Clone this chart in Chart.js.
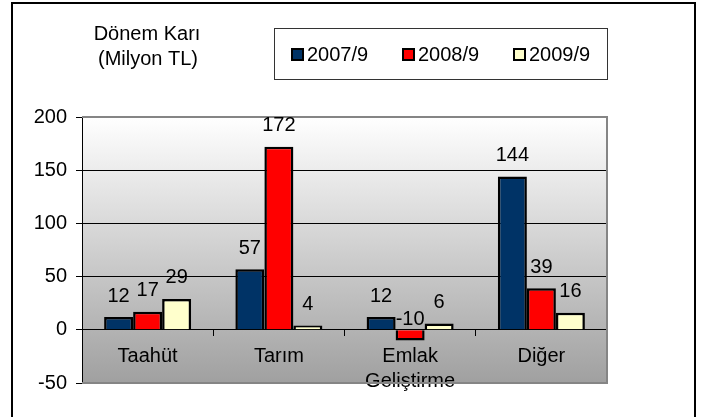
<!DOCTYPE html>
<html>
<head>
<meta charset="utf-8">
<script src="https://cdn.jsdelivr.net/npm/chart.js@4/dist/chart.umd.min.js"></script>
<style>
html,body{margin:0;padding:0;background:#fff;}
#wrap{width:701px;height:417px;}
</style>
</head>
<body>
<div id="wrap"><canvas id="c" width="701" height="417"></canvas></div>
<script>
const categories = ['Taahüt', 'Tarım', 'Emlak Geliştirme', 'Diğer'];
const seriesNames = ['2007/9', '2008/9', '2009/9'];
const values2007 = [12, 57, 12, 144];
const values2008 = [17, 172, -10, 39];
const values2009 = [29, 4, 6, 16];
const yTicks = [-50, 0, 50, 100, 150, 200];
const titleLines = ['Dönem Karı', '(Milyon TL)'];
const colors = ['#003366', '#ff0000', '#ffffcc'];

const FONT = '"Liberation Sans", Arial, sans-serif';
const FS = 20;

const bgPlugin = {
  id: 'bg',
  beforeDraw(chart) {
    const {ctx, chartArea: a} = chart;
    ctx.save();
    ctx.fillStyle = '#fff';
    ctx.fillRect(0, 0, chart.width, chart.height);
    const g = ctx.createLinearGradient(0, a.top, 0, a.bottom);
    g.addColorStop(0, '#ffffff');
    g.addColorStop(1, '#a0a0a0');
    ctx.fillStyle = g;
    ctx.fillRect(a.left, a.top, a.right - a.left, a.bottom - a.top);
    ctx.restore();
  },
  beforeDatasetsDraw(chart) {
    const {ctx, chartArea: a} = chart;
    ctx.save();
    ctx.strokeStyle = '#858585';
    ctx.lineWidth = 2;
    ctx.beginPath();
    ctx.moveTo(a.left, a.top);
    ctx.lineTo(a.right, a.top);
    ctx.lineTo(a.right, a.bottom);
    ctx.lineTo(a.left, a.bottom);
    ctx.stroke();
    ctx.restore();
  },
  afterDatasetsDraw(chart) {
    const {ctx} = chart;
    ctx.save();
    ctx.font = FS + 'px ' + FONT;
    ctx.fillStyle = '#000';
    ctx.textAlign = 'center';
    ctx.textBaseline = 'middle';
    chart.data.datasets.forEach((ds, i) => {
      const meta = chart.getDatasetMeta(i);
      meta.data.forEach((el, j) => {
        ctx.fillText(String(ds.data[j]), el.x, el.y - 21);
      });
    });
    ctx.restore();
  },
  afterDraw(chart) {
    const {ctx} = chart;
    ctx.save();
    // outer frame
    ctx.strokeStyle = '#000';
    ctx.lineWidth = 2;
    ctx.strokeRect(12, 3, 683, 440);
    // title
    ctx.font = FS + 'px ' + FONT;
    ctx.fillStyle = '#000';
    ctx.textAlign = 'center';
    ctx.textBaseline = 'middle';
    ctx.fillText(titleLines[0], 147, 34);
    ctx.fillText(titleLines[1], 148, 59);
    // legend
    ctx.strokeStyle = '#333';
    ctx.lineWidth = 1;
    ctx.strokeRect(274.5, 28.5, 333, 51);
    const sq = [291, 402, 513];
    ctx.textAlign = 'left';
    chart.data.datasets.forEach((ds, i) => {
      ctx.fillStyle = ds.backgroundColor;
      ctx.fillRect(sq[i], 48, 13, 13);
      ctx.strokeStyle = '#000';
      ctx.lineWidth = 2;
      ctx.strokeRect(sq[i] + 1, 49, 11, 11);
      ctx.fillStyle = '#000';
      ctx.fillText(ds.label, sq[i] + 16, 55.5);
    });
    ctx.restore();
  }
};

new Chart(document.getElementById('c'), {
  type: 'bar',
  data: {
    labels: categories,
    datasets: [
      {label: seriesNames[0], data: values2007, backgroundColor: colors[0]},
      {label: seriesNames[1], data: values2008, backgroundColor: colors[1]},
      {label: seriesNames[2], data: values2009, backgroundColor: colors[2]}
    ].map(d => Object.assign(d, {borderColor: '#000', borderWidth: 2.5, categoryPercentage: 0.663, barPercentage: 1}))
  },
  options: {
    responsive: false,
    devicePixelRatio: 1,
    animation: false,
    layout: {padding: {left: 0, right: 94, top: 117, bottom: 34}},
    plugins: {legend: {display: false}, tooltip: {enabled: false}, title: {display: false}},
    scales: {
      x: {
        position: {y: 0},
        grid: {offset: true, drawOnChartArea: false, drawTicks: true, tickLength: 6, color: '#000'},
        border: {display: true, color: '#000', width: 1},
        ticks: {
          color: '#000',
          padding: 8.5,
          maxRotation: 0,
          autoSkip: false,
          font: {family: FONT, size: FS, lineHeight: 25 / FS},
          callback: function(v) {
            const l = this.getLabelForValue(v);
            return l.indexOf(' ') >= 0 ? l.split(' ') : l;
          }
        }
      },
      y: {
        min: yTicks[0],
        max: yTicks[yTicks.length - 1],
        afterFit: s => { s.width = 82; },
        afterBuildTicks: s => { s.ticks = yTicks.map(v => ({value: v})); },
        grid: {
          color: c => (c.tick && (c.tick.value === 200 || c.tick.value === -50)) ? 'rgba(0,0,0,0)' : '#000',
          tickColor: '#000',
          tickLength: 6,
          lineWidth: 1
        },
        border: {display: true, color: '#000', width: 1},
        ticks: {color: '#000', padding: 9, font: {family: FONT, size: FS}}
      }
    }
  },
  plugins: [bgPlugin]
});
</script>
</body>
</html>
